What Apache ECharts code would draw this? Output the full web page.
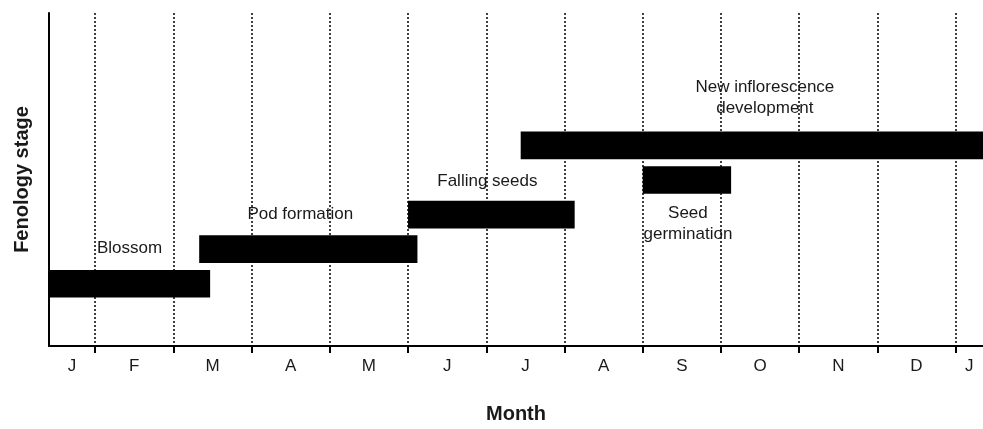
<!DOCTYPE html>
<html>
<head>
<meta charset="utf-8">
<script src="https://cdn.jsdelivr.net/npm/echarts@6/dist/echarts.min.js"></script>
<style>html,body{margin:0;padding:0;background:#fff}#c{width:983px;height:429px}</style>
</head>
<body>
<div id="c"></div>
<script>
// ---- data ----
var monthLabels = ['J','F','M','A','M','J','J','A','S','O','N','D','J'];
var monthLabelPositions = [0.705,1.5,2.5,3.5,4.5,5.5,6.5,7.5,8.5,9.5,10.5,11.5,12.175];
var monthBoundaries = [1,2,3,4,5,6,7,8,9,10,11,12];
var stageNames = ['Blossom','Pod formation','Falling seeds','Seed\ngermination','New inflorescence\ndevelopment'];
var stageLevels = [1,2,3,4,5];
var stageStart = [0.41,2.33,5.0,8.0,6.44];
var stageEnd = [2.47,5.12,7.13,9.13,12.6];

// ---- styles ----
var labelOffsets = [[0,-35],[-8,-35],[-4,-33],[1,44],[13,-48]];
var xMin = 0.41, xMax = 12.35;

var seriesData = stageNames.map(function(n,i){
  return {name:n, value:[stageLevels[i], stageStart[i], stageEnd[i]]};
});

var chart = echarts.init(document.getElementById('c'));
chart.setOption({
  animation:false,
  grid:{left:49,right:0,top:13,bottom:79,containLabel:false},
  xAxis:{
    type:'value', min:xMin, max:xMax,
    name:'Month', nameLocation:'middle', nameGap:58,
    nameTextStyle:{fontFamily:'Liberation Sans, Arial, sans-serif',fontSize:20,fontWeight:'bold',color:'#1a1a1a'},
    axisLine:{show:true,onZero:false,lineStyle:{color:'#000',width:2}},
    axisTick:{show:true,inside:false,customValues:monthBoundaries,length:7,lineStyle:{color:'#000',width:2}},
    axisLabel:{customValues:monthLabelPositions,margin:12,fontFamily:'Liberation Sans, Arial, sans-serif',fontSize:17,color:'#1a1a1a',
      formatter:function(v){
        for(var i=0;i<monthLabelPositions.length;i++){ if(Math.abs(monthLabelPositions[i]-v)<1e-6) return monthLabels[i]; }
        return '';
      }},
    splitLine:{show:true,lineStyle:{color:'#000',width:1.5,type:[2,2]}}
  },
  yAxis:{
    type:'value', min:-0.8, max:8.83,
    name:'Fenology stage', nameLocation:'middle', nameGap:17,
    nameTextStyle:{fontFamily:'Liberation Sans, Arial, sans-serif',fontSize:20,fontWeight:'bold',color:'#1a1a1a'},
    axisLine:{show:true,onZero:false,lineStyle:{color:'#000',width:2}},
    axisTick:{show:false}, axisLabel:{show:false}, splitLine:{show:false}
  },
  series:[{
    type:'custom',
    encode:{x:[1,2],y:0},
    data:seriesData,
    renderItem:function(params,api){
      var lvl=api.value(0), s=api.value(1), e=api.value(2);
      var p0=api.coord([s,lvl]), p1=api.coord([e,lvl]);
      var h=api.size([0,0.8])[1];
      var cs=params.coordSys;
      var r=echarts.graphic.clipRectByRect({x:p0[0],y:p0[1]-h/2,width:p1[0]-p0[0],height:h},{x:cs.x,y:cs.y,width:cs.width,height:cs.height});
      if(!r) return;
      var off=labelOffsets[params.dataIndex];
      var cx=r.x+r.width/2, cy=r.y+r.height/2;
      return {type:'group',children:[
        {type:'rect',shape:r,style:{fill:'#000'}},
        {type:'text',x:cx+off[0],y:cy+off[1],z2:10,style:{text:stageNames[params.dataIndex],align:'center',verticalAlign:'middle',
          fontFamily:'Liberation Sans, Arial, sans-serif',fontSize:17,lineHeight:21,fill:'#1a1a1a'}}
      ]};
    }
  }]
});
</script>
</body>
</html>
